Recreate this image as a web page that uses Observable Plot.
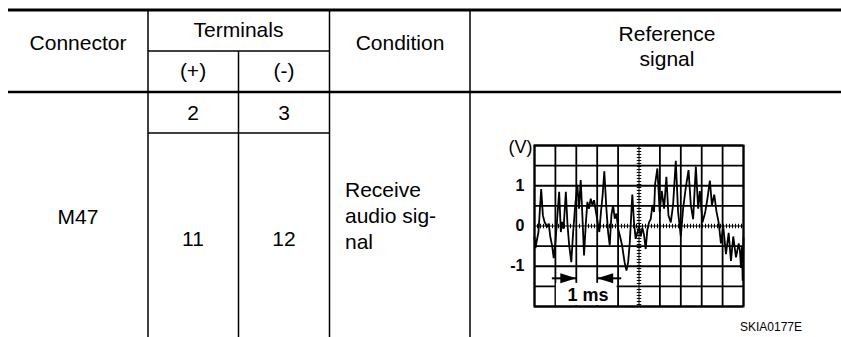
<!DOCTYPE html>
<html><head><meta charset="utf-8">
<script src="https://cdn.jsdelivr.net/npm/d3@7"></script>
<script src="https://cdn.jsdelivr.net/npm/@observablehq/plot@0.6"></script>
<style>
body{margin:0;background:#fff;}
#page{position:relative;width:841px;height:337px;overflow:hidden;font-family:"Liberation Sans",Arial,sans-serif;}
#table{position:absolute;left:0;top:0;}
#scope{position:absolute;left:490px;top:135px;}
</style></head><body>
<div id="page"><svg id="table" width="841" height="337"></svg><div id="scope"></div></div>
<script>
// ---- table content ----
const headerCols = ["Connector", "Terminals", "Condition"];
const headerRef = ["Reference", "signal"];
const terminalSigns = ["(+)", "(-)"];
const connectorName = "M47";
const rowTerminals = [["2", "3"], ["11", "12"]];
const conditionLines = ["Receive", "audio sig-", "nal"];
const figureId = "SKIA0177E";

// ---- oscilloscope data (time in ms, voltage in V) ----
const tMs = [0.00,0.05,0.11,0.19,0.32,0.40,0.48,0.60,0.68,0.76,0.84,0.92,1.00,1.08,1.18,1.26,1.32,1.39,1.50,1.58,1.66,1.76,1.85,1.95,2.05,2.13,2.21,2.29,2.37,2.45,2.53,2.61,2.69,2.77,2.85,2.94,3.02,3.10,3.18,3.26,3.34,3.44,3.52,3.60,3.68,3.76,3.84,3.92,4.00,4.08,4.19,4.31,4.40,4.48,4.56,4.68,4.76,4.84,4.92,5.00,5.08,5.16,5.24,5.32,5.40,5.48,5.56,5.64,5.72,5.77,5.88,5.99,6.09,6.20,6.31,6.41,6.52,6.63,6.76,6.87,7.00,7.11,7.24,7.37,7.48,7.59,7.72,7.83,7.91,8.04,8.17,8.28,8.39,8.49,8.60,8.71,8.81,8.92,9.03,9.16,9.29,9.40,9.51,9.64,9.77,9.83,9.88,9.93,9.96,10.00];
const volts = [-0.28,-0.55,-0.36,-0.15,0.92,0.27,0.10,-0.03,0.06,-0.28,-0.48,-0.80,-0.40,0.14,0.85,-0.15,0.10,-0.07,0.85,0.02,-0.48,-0.90,-0.15,0.52,1.02,0.43,1.14,0.27,-0.73,0.02,0.60,0.43,0.68,0.52,0.64,0.35,0.10,-0.15,0.35,0.77,1.36,0.43,-0.15,-0.48,0.27,0.52,0.18,0.31,-0.07,-0.23,-0.48,-0.90,-1.11,-0.90,-0.40,0.78,0.10,-0.32,-0.17,0.00,-0.26,-0.04,-0.22,-0.57,-0.09,0.09,0.17,0.52,0.35,1.04,1.43,0.35,0.87,0.43,1.22,0.26,0.09,0.52,1.62,0.35,-0.26,0.43,0.96,1.39,0.52,0.17,1.48,0.43,0.87,0.09,0.35,0.70,1.13,0.52,0.78,0.35,0.09,-0.43,0.00,-0.70,-0.17,-0.87,-0.26,-0.78,-0.43,-0.61,-1.04,-0.52,-1.36,-0.30];
const gridT = [0,1,2,3,4,5,6,7,8,9,10];
const gridV = [-2,-1.5,-1,-0.5,0,0.5,1,1.5,2];
const voltLabels = [1, 0, -1];
const unitLabel = "(V)";
const scaleLabel = "1 ms";
const markerStart = [0.83, 4.15];
const markerTip = [2, 3];
const markerV = -1.3;

// ---- table drawing ----
const svg = d3.select("#table");
const hl = (x1, x2, y, w) => svg.append("line").attr("x1", x1).attr("x2", x2).attr("y1", y).attr("y2", y).attr("stroke", "#000").attr("stroke-width", w);
const vl = (x, y1, y2, w) => svg.append("line").attr("x1", x).attr("x2", x).attr("y1", y1).attr("y2", y2).attr("stroke", "#000").attr("stroke-width", w);
hl(8, 841, 10, 3);
hl(8, 841, 92, 2.5);
hl(148, 329.5, 51, 1.5);
hl(148, 329.5, 133, 1.5);
vl(148, 10, 337, 1.5);
vl(238.5, 51, 337, 1.5);
vl(329.5, 10, 337, 1.5);
vl(470, 10, 337, 1.5);
const txt = (s, x, y, anchor = "middle", size = 21) => svg.append("text").attr("x", x).attr("y", y).attr("text-anchor", anchor).attr("font-size", size).attr("fill", "#000").text(s);
txt(headerCols[0], 78, 50);
txt(headerCols[1], 238.5, 37);
txt(headerCols[2], 400, 50);
txt(headerRef[0], 667, 41);
txt(headerRef[1], 667, 66);
txt(terminalSigns[0], 193, 78);
txt(terminalSigns[1], 284, 78);
txt(connectorName, 78, 224);
txt(rowTerminals[0][0], 193, 120);
txt(rowTerminals[0][1], 284, 120);
txt(rowTerminals[1][0], 193, 246);
txt(rowTerminals[1][1], 284, 246);
conditionLines.forEach((s, i) => txt(s, 345, 197 + i * 26, "start"));
txt(figureId, 771, 331, "middle", 12);

// ---- oscilloscope ----
const wave = tMs.map((t, i) => ({t, v: volts[i]}));
const arrowHead = {draw(ctx) { ctx.moveTo(0, 0); ctx.lineTo(-16, -5); ctx.lineTo(-16, 5); ctx.closePath(); }};
const idx = [0, 1];
const chart = Plot.plot({
  width: 260, height: 180,
  marginLeft: 44, marginRight: 7, marginTop: 10, marginBottom: 9,
  style: {background: "transparent", overflow: "visible", fontFamily: "'Liberation Sans', Arial, sans-serif"},
  x: {domain: [0, 10], axis: null},
  y: {domain: [-2, 2], axis: null},
  marks: [
    Plot.ruleX(gridT.filter(d => d !== 5), {stroke: "#000", strokeWidth: 1.8}),
    Plot.ruleY(gridV.filter(d => d !== 0), {stroke: "#000", strokeWidth: 1.8}),
    Plot.ruleX([5], {stroke: "#000", strokeWidth: 1}),
    Plot.ruleX([5], {stroke: "#000", strokeWidth: 4.5, strokeDasharray: "1,2"}),
    Plot.ruleY([0], {stroke: "#000", strokeWidth: 1}),
    Plot.ruleY([0], {stroke: "#000", strokeWidth: 4.5, strokeDasharray: "1,2"}),
    Plot.line(wave, {x: "t", y: "v", stroke: "#000", strokeWidth: 1.8, strokeLinejoin: "miter"}),
    Plot.rect([0], {x1: () => 1, x2: () => 4, y1: () => -2, y2: () => -1.4, fill: "#fff", inset: 1}),
    Plot.frame({stroke: "#000", strokeWidth: 2}),
    Plot.link(idx, {x1: i => markerStart[i], x2: i => markerTip[i], y1: () => markerV, y2: () => markerV, stroke: "#000", strokeWidth: 2}),
    Plot.dot(idx, {x: i => markerTip[i], y: () => markerV, symbol: arrowHead, fill: "#000", stroke: "none", rotate: i => i === 0 ? 0 : 180}),
    Plot.text([scaleLabel], {x: () => 2.56, y: () => -1.72, text: d => d, fontWeight: "bold", fontSize: 18, fill: "#000"}),
    Plot.text(voltLabels, {y: d => d, frameAnchor: "left", text: d => String(d), textAnchor: "end", dx: -10, fontWeight: "bold", fontSize: 16, fill: "#000"}),
    Plot.text([unitLabel], {y: () => 2, frameAnchor: "left", text: d => d, textAnchor: "end", dx: -2, dy: 2, fontSize: 18, fill: "#000"})
  ]
});
document.getElementById("scope").appendChild(chart);
</script>
</body></html>
